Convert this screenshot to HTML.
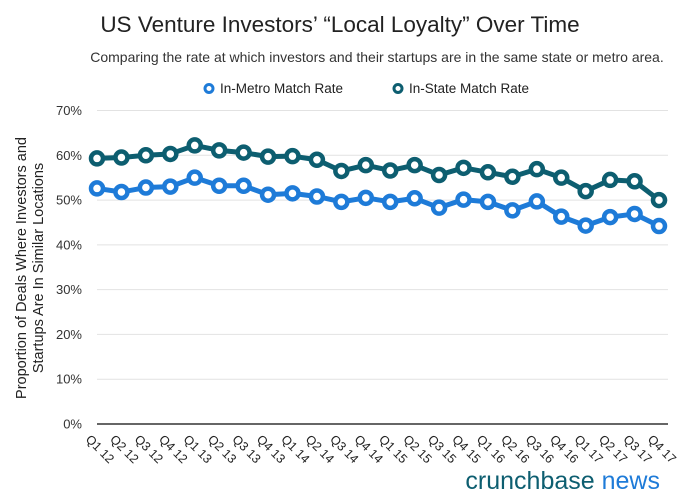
<!DOCTYPE html>
<html><head><meta charset="utf-8"><style>
body{margin:0;background:#fff;font-family:"Liberation Sans",sans-serif;}
svg text{font-family:"Liberation Sans",sans-serif;}
</style></head><body>
<svg id="c" width="680" height="498" viewBox="0 0 680 498">
<text x="340" y="32" text-anchor="middle" font-size="22.5" fill="#222">US Venture Investors’ “Local Loyalty” Over Time</text>
<text x="377" y="62" text-anchor="middle" font-size="14" fill="#333">Comparing the rate at which investors and their startups are in the same state or metro area.</text>
<g><circle cx="209" cy="88.5" r="4" fill="#fff" stroke="#1e7bd8" stroke-width="3"/><text x="220" y="93" font-size="13.5" fill="#222">In-Metro Match Rate</text></g>
<g><circle cx="398" cy="88.5" r="4" fill="#fff" stroke="#0d5e70" stroke-width="3"/><text x="409" y="93" font-size="13.5" fill="#222">In-State Match Rate</text></g>
<text transform="translate(26,268) rotate(-90)" text-anchor="middle" font-size="14.5" fill="#222"><tspan x="0" dy="0">Proportion of Deals Where Investors and</tspan><tspan x="0" dy="17">Startups Are In Similar Locations</tspan></text>
<g id="grid"></g><g id="lines"></g>
<text x="660" y="489" text-anchor="end" font-size="25"><tspan fill="#0d5e70">crunchbase </tspan><tspan fill="#1e7bd8">news</tspan></text>
</svg>
<script>
const categories=["Q1 12","Q2 12","Q3 12","Q4 12","Q1 13","Q2 13","Q3 13","Q4 13","Q1 14","Q2 14","Q3 14","Q4 14","Q1 15","Q2 15","Q3 15","Q4 15","Q1 16","Q2 16","Q3 16","Q4 16","Q1 17","Q2 17","Q3 17","Q4 17"];
const inState=[59.3,59.5,60,60.3,62.2,61.1,60.6,59.7,59.8,59,56.5,57.8,56.6,57.8,55.6,57.2,56.2,55.2,56.9,55,52,54.5,54.2,50];
const inMetro=[52.6,51.8,52.8,53,55,53.2,53.2,51.2,51.5,50.8,49.6,50.5,49.6,50.4,48.3,50.1,49.6,47.7,49.7,46.3,44.3,46.2,46.9,44.2];
const yTicks=[0,10,20,30,40,50,60,70];
const NS="http://www.w3.org/2000/svg";
const x0=97,x1=659,yb=424,yt=110.5;
const xs=i=>x0+(x1-x0)*i/(categories.length-1);
const ys=v=>yb-(yb-yt)*v/70;
const grid=document.getElementById('grid'),lines=document.getElementById('lines');
function mk(t,a,p){const e=document.createElementNS(NS,t);for(const k in a)e.setAttribute(k,a[k]);p.appendChild(e);return e;}
yTicks.forEach(v=>{
 const l=mk('line',{x1:97,x2:668,y1:ys(v),y2:ys(v),stroke:v?'#e2e2e2':'#333','stroke-width':v?1:1.5},grid);
 
 
 const t=mk('text',{x:82,y:ys(v)+4.5,'text-anchor':'end','font-size':13,fill:'#333'},grid);
 t.textContent=v+'%';
 
 
});
categories.forEach((c,i)=>{
 const t=mk('text',{transform:`translate(${xs(i)-12},${ys(0)+16}) rotate(45)`,'font-size':12.5,fill:'#222'},grid);
 t.textContent=c;
 
 
});
function series(vals,col,name){
 const p=mk('polyline',{points:vals.map((v,i)=>xs(i)+','+ys(v)).join(' '),fill:'none',stroke:col,'stroke-width':5,'stroke-linejoin':'round'},lines);
 
 
 vals.forEach((v,i)=>{
  const c=mk('circle',{cx:xs(i),cy:ys(v),r:6,fill:'#fff',stroke:col,'stroke-width':4.5},lines);
  
  
 });
}
series(inState,'#0d5e70','in-state');
series(inMetro,'#1e7bd8','in-metro');
</script>
</body></html>
